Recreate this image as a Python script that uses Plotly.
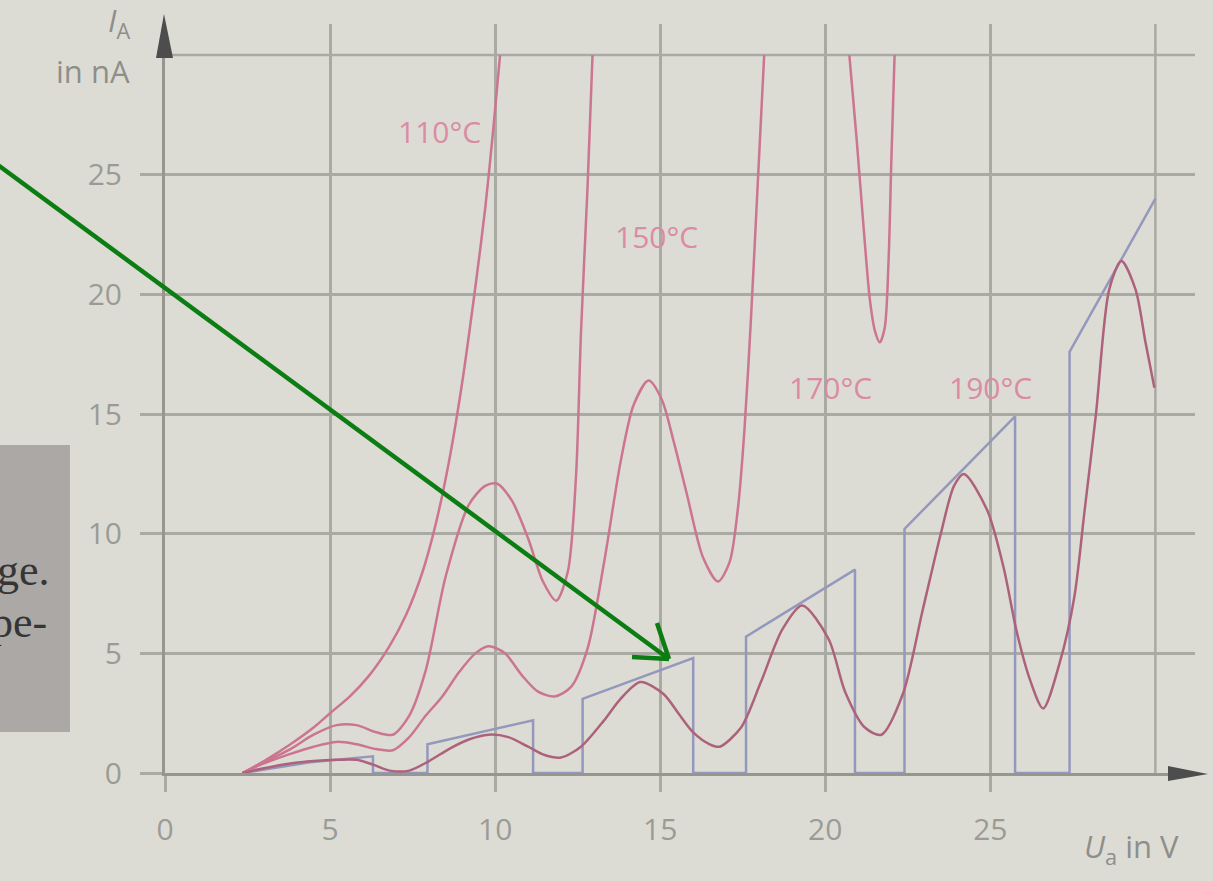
import plotly.graph_objects as go

# ---------------- data ----------------
# U_a in V, I_A in nA
t110_x = [2.35, 3.0, 3.8, 4.5, 5.0, 5.6, 6.2, 6.8, 7.3, 7.8, 8.2, 8.6, 9.0, 9.4, 9.7, 9.95, 10.15]
t110_y = [0.0, 0.5, 1.2, 1.9, 2.5, 3.2, 4.1, 5.3, 6.6, 8.4, 10.4, 13.0, 16.3, 20.3, 23.6, 27.0, 30.0]

t150_x = [2.35, 3.0, 3.8, 4.5, 5.2, 5.8, 6.4, 6.9, 7.4, 7.9, 8.5, 9.2, 9.7, 10.05, 10.5, 11.0, 11.45, 11.85, 12.2, 12.45, 12.6, 12.8, 12.95]
t150_y = [0.0, 0.45, 1.0, 1.6, 2.0, 2.0, 1.7, 1.6, 2.4, 4.3, 8.2, 11.2, 12.0, 12.1, 11.4, 9.8, 8.0, 7.2, 8.4, 12.4, 18.4, 24.5, 30.0]

t170_x = [2.35, 3.0, 3.8, 4.5, 5.2, 5.8, 6.4, 6.9, 7.4, 7.9, 8.4, 8.9, 9.4, 9.8, 10.3, 10.8, 11.3, 11.8, 12.3, 12.8,
          13.3, 13.8, 14.2, 14.65, 15.05, 15.4, 15.8, 16.3, 16.75, 17.1, 17.35, 17.55, 17.75, 17.95, 18.15]
t170_y = [0.0, 0.4, 0.8, 1.1, 1.3, 1.2, 1.0, 0.95, 1.5, 2.4, 3.2, 4.2, 5.0, 5.3, 5.0, 4.1, 3.4, 3.2, 3.6, 5.2,
          8.8, 13.0, 15.4, 16.4, 15.6, 13.9, 11.7, 9.0, 8.0, 8.8, 11.0, 14.3, 19.0, 24.5, 30.0]
t170b_x = [20.73, 20.95, 21.15, 21.35, 21.5, 21.65, 21.8, 21.92, 22.0, 22.1]
t170b_y = [30.0, 26.5, 23.0, 19.8, 18.5, 18.0, 18.6, 21.5, 25.5, 30.0]

t190_x = [2.35, 3.0, 3.8, 4.5, 5.2, 5.8, 6.3, 6.8, 7.4, 8.0, 8.6, 9.2, 9.8, 10.4, 11.0, 11.5, 12.0, 12.6, 13.3, 13.8,
          14.4, 15.1, 15.6, 16.0, 16.5, 16.8, 17.45, 18.05, 18.7, 19.3, 20.1, 20.6, 21.2, 21.7, 22.35, 22.95, 23.5, 23.9,
          24.2, 24.9, 25.4, 25.8, 26.2, 26.6, 27.1, 27.55, 27.85, 28.2, 28.6, 28.97, 29.4, 29.7, 29.97]
t190_y = [0.0, 0.2, 0.4, 0.5, 0.55, 0.55, 0.35, 0.1, 0.1, 0.5, 1.0, 1.4, 1.6, 1.5, 1.1, 0.75, 0.65, 1.1, 2.2, 3.1,
          3.8, 3.3, 2.4, 1.7, 1.2, 1.1, 1.9, 3.8, 6.0, 7.0, 5.6, 3.4, 1.9, 1.6, 3.3, 6.8, 10.0, 12.0,
          12.5, 11.0, 8.6, 5.9, 3.9, 2.7, 4.6, 7.4, 10.9, 15.0, 20.2, 21.4, 20.2, 18.0, 16.1]

step_x = [2.35, 4.4, 6.3, 6.3, 7.95, 7.95, 11.15, 11.15, 12.65, 12.65, 16.0, 16.0, 17.6, 17.6, 20.9, 20.9,
          22.4, 22.4, 25.75, 25.75, 27.4, 27.4, 30.0]
step_y = [0.0, 0.45, 0.7, 0.0, 0.0, 1.2, 2.2, 0.0, 0.0, 3.1, 4.8, 0.0, 0.0, 5.7, 8.5, 0.0,
          0.0, 10.2, 14.9, 0.0, 0.0, 17.6, 24.0]

label_text = ["110°C", "150°C", "170°C", "190°C"]
label_x = [8.3, 14.9, 20.15, 25.0]
label_y = [26.8, 22.4, 16.1, 16.1]

x_ticks = [0, 5, 10, 15, 20, 25]
y_ticks = [0, 5, 10, 15, 20, 25]

# ---------------- styling ----------------
W, H = 1213, 881
L, R, T, B = 165, 18, 24, 108
BG = "#dddcd4"
GRID = "#a9aaa2"
AXIS = "#96968f"
PINK = "#cb7590"
DARK = "#ad627c"
BLUE = "#9598bd"
LABEL = "#d98ca3"
TICKC = "#9b9b96"
SANS = "Open Sans, sans-serif"

def px(x):
    return (x - L) / (W - L - R)

def py(y):
    return (H - B - y) / (H - B - T)

fig = go.Figure()

fig.add_trace(go.Scatter(x=step_x, y=step_y, mode="lines",
                         line=dict(color=BLUE, width=2.5), hoverinfo="skip"))
for xs, ys, col in [(t110_x, t110_y, PINK), (t150_x, t150_y, PINK),
                    (t170_x + [None] + t170b_x, t170_y + [None] + t170b_y, PINK),
                    (t190_x, t190_y, DARK)]:
    fig.add_trace(go.Scatter(x=xs, y=ys, mode="lines",
                             line=dict(color=col, width=2.5, shape="spline", smoothing=0.8),
                             hoverinfo="skip"))

for t, x, y in zip(label_text, label_x, label_y):
    fig.add_annotation(x=x, y=y, text=t, showarrow=False,
                       font=dict(family=SANS, size=30, color=LABEL))

shapes = []
# extra grid lines at 30
shapes.append(dict(type="line", xref="x", yref="y", x0=0, x1=31.2, y0=30, y1=30,
                   line=dict(color=GRID, width=2.5), layer="below"))
shapes.append(dict(type="line", xref="x", yref="y", x0=30, x1=30, y0=0, y1=31.3,
                   line=dict(color=GRID, width=2.5), layer="below"))
# axis arrowheads
shapes.append(dict(type="path", xref="paper", yref="paper",
                   path=f"M {px(156)},{py(58)} L {px(164)},{py(14)} L {px(173)},{py(58)} Z",
                   fillcolor="#4d4d4d", line=dict(width=0)))
shapes.append(dict(type="path", xref="paper", yref="paper",
                   path=f"M {px(1168)},{py(766)} L {px(1208)},{py(774)} L {px(1168)},{py(781)} Z",
                   fillcolor="#4d4d4d", line=dict(width=0)))
# grey page box on the left
shapes.append(dict(type="rect", xref="paper", yref="paper",
                   x0=px(-2), x1=px(70), y0=py(732), y1=py(445),
                   fillcolor="#aba8a5", line=dict(width=0)))
# green arrow
G = "#0b7d12"
shapes.append(dict(type="line", xref="paper", yref="paper",
                   x0=px(-2), y0=py(165), x1=px(669), y1=py(659),
                   line=dict(color=G, width=4.5)))
shapes.append(dict(type="line", xref="paper", yref="paper",
                   x0=px(669), y0=py(659), x1=px(657), y1=py(623),
                   line=dict(color=G, width=4.5)))
shapes.append(dict(type="line", xref="paper", yref="paper",
                   x0=px(669), y0=py(659), x1=px(632), y1=py(657),
                   line=dict(color=G, width=4.5)))

# page text fragments
fig.add_annotation(xref="paper", yref="paper", x=px(52), y=py(570), text="ge.",
                   showarrow=False, xanchor="right", yanchor="middle",
                   font=dict(family="Liberation Serif, serif", size=44, color="#353535"))
fig.add_annotation(xref="paper", yref="paper", x=px(49), y=py(622), text="pe-",
                   showarrow=False, xanchor="right", yanchor="middle",
                   font=dict(family="Liberation Serif, serif", size=44, color="#353535"))

# axis titles
fig.add_annotation(xref="paper", yref="paper", x=px(132), y=py(22), text="<i>I</i><sub>A</sub>",
                   showarrow=False, xanchor="right", yanchor="middle",
                   font=dict(family=SANS, size=31, color="#8e8e8a"))
fig.add_annotation(xref="paper", yref="paper", x=px(132), y=py(71), text="in nA",
                   showarrow=False, xanchor="right", yanchor="middle",
                   font=dict(family=SANS, size=31, color="#8e8e8a"))
fig.add_annotation(xref="paper", yref="paper", x=px(1082), y=py(848), text="<i>U</i><sub>a</sub> in V",
                   showarrow=False, xanchor="left", yanchor="middle",
                   font=dict(family=SANS, size=31, color="#8e8e8a"))

fig.update_layout(
    width=W, height=H,
    margin=dict(l=L, r=R, t=T, b=B, pad=0),
    paper_bgcolor=BG, plot_bgcolor=BG,
    showlegend=False,
    shapes=shapes,
    xaxis=dict(range=[0, 31.2], tickvals=x_ticks, ticktext=[str(v) for v in x_ticks],
               showgrid=True, gridcolor=GRID, gridwidth=2.5, zeroline=False,
               showline=True, linecolor=AXIS, linewidth=3,
               ticks="outside", ticklen=16, tickwidth=2.5, tickcolor=GRID,
               ticklabelstandoff=12,
               tickfont=dict(family=SANS, size=30, color=TICKC)),
    yaxis=dict(range=[0, 31.3], tickvals=y_ticks, ticktext=[str(v) for v in y_ticks],
               showgrid=True, gridcolor=GRID, gridwidth=2.5, zeroline=False,
               showline=True, linecolor=AXIS, linewidth=3,
               ticks="outside", ticklen=22, tickwidth=2.5, tickcolor=GRID,
               ticklabelstandoff=12,
               tickfont=dict(family=SANS, size=30, color=TICKC)),
)

fig.write_html("out.html", config={"displayModeBar": False},
               post_script="document.body.style.margin='0';document.body.style.overflow='hidden';")
